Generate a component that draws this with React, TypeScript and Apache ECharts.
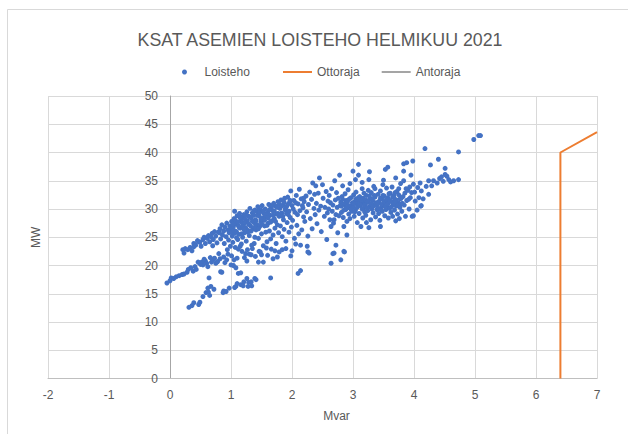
import React, { useEffect, useRef } from "react";
import * as echarts from "echarts";

type Pt = [number, number];

const titleText = "KSAT ASEMIEN LOISTEHO HELMIKUU 2021";
const xAxisName = "Mvar";
const yAxisName = "MW";
const seriesNames = ["Loisteho", "Ottoraja", "Antoraja"];

// Loisteho scatter [Mvar, MW]
const loistehoLeftChain: Pt[] = [
  [-0.05, 16.9], [0.0, 17.3], [0.02, 17.8], [0.06, 17.7], [0.1, 18.0], [0.15, 18.2], [0.2, 18.4], [0.23, 18.5],
  [0.28, 18.8], [0.3, 19.3], [0.34, 19.6], [0.38, 19.0], [0.43, 19.3], [0.46, 20.6], [0.48, 20.5], [0.52, 20.6],
  [0.54, 20.1], [0.58, 20.8], [0.62, 19.8], [0.64, 17.8], [0.68, 20.6], [0.7, 21.0], [0.75, 20.4], [0.77, 20.6],
  [0.78, 20.7], [0.82, 21.2], [0.83, 18.9], [0.85, 18.8], [0.8, 22.1], [0.88, 21.5], [0.93, 21.0], [1.0, 20.1],
  [1.01, 21.7], [1.04, 20.0], [1.05, 21.0], [1.08, 19.6], [1.12, 18.6], [1.16, 18.7], [1.18, 22.5], [1.22, 21.4],
  [1.26, 20.8], [1.3, 22.0], [1.45, 20.6], [1.53, 20.6], [1.4, 21.6], [1.35, 23.0], [1.48, 22.4], [1.6, 21.8],
  [1.69, 21.2], [1.79, 22.4], [1.84, 22.8], [1.98, 21.7], [2.26, 22.4], [2.25, 23.4], [2.28, 22.2],
  [0.41, 19.8], [0.5, 20.2], [0.56, 21.1], [0.6, 20.4], [0.66, 21.4], [0.73, 21.3], [0.9, 20.5], [0.95, 22.0],
  [1.1, 21.3], [1.15, 23.4], [1.24, 22.1], [1.38, 23.9], [1.5, 21.9], [1.58, 23.1], [1.66, 22.9], [1.76, 21.5],
  [1.9, 23.0], [2.0, 22.6], [2.06, 23.8],
];

const loistehoLowerChain: Pt[] = [
  [0.31, 12.6], [0.36, 12.9], [0.39, 13.4], [0.47, 13.1], [0.49, 13.5], [0.54, 14.5], [0.59, 15.2], [0.63, 15.3],
  [0.65, 14.7], [0.62, 16.0], [0.67, 16.3], [0.72, 15.8], [0.87, 15.2], [0.88, 15.5], [0.92, 15.4], [0.97, 16.0],
  [1.06, 16.1], [1.08, 16.3], [1.1, 16.8], [1.16, 16.6], [1.2, 16.4], [1.21, 17.1], [1.26, 17.7], [1.28, 16.3],
  [1.29, 17.0], [1.33, 17.1], [1.34, 16.4], [1.39, 17.7], [1.41, 17.5], [1.65, 17.8], [2.1, 18.6], [2.14, 19.1],
  [2.64, 20.4], [2.67, 22.1], [2.8, 21.0], [2.86, 22.4], [2.69, 22.2], [2.85, 22.5],
];

const loistehoBandLeft: Pt[] = [
  [0.21, 22.8], [0.23, 22.2], [0.25, 23.0], [0.29, 22.8], [0.33, 23.2], [0.36, 22.6], [0.39, 23.9], [0.39, 23.3],
  [0.42, 23.6], [0.45, 24.4], [0.47, 24.2], [0.49, 24.1], [0.51, 23.4], [0.54, 24.6], [0.56, 25.0], [0.58, 23.9],
  [0.61, 24.8], [0.63, 25.3], [0.65, 24.2], [0.67, 25.1], [0.69, 25.7], [0.71, 24.6], [0.73, 26.0], [0.75, 25.2],
  [0.77, 24.0], [0.79, 25.9], [0.7, 23.5],
  [0.81, 25.8], [0.82, 26.5], [0.83, 24.7], [0.85, 27.2], [0.86, 25.4], [0.88, 26.1], [0.89, 23.9], [0.9, 26.8],
  [0.92, 25.1], [0.93, 27.5], [0.95, 26.3], [0.96, 24.5], [0.97, 25.8], [0.98, 27.0], [0.99, 23.4], [0.94, 22.8],
  [1.0, 26.4], [1.01, 27.8], [1.02, 25.2], [1.03, 24.1], [1.04, 26.9], [1.05, 28.3], [1.06, 25.7], [1.07, 23.2],
  [1.08, 27.4], [1.09, 26.0], [1.1, 28.8], [1.11, 24.6], [1.12, 27.1], [1.13, 25.5], [1.14, 29.2], [1.15, 26.6],
  [1.16, 28.0], [1.17, 23.8], [1.18, 27.6], [1.19, 25.0], [1.19, 28.6], [1.12, 22.9], [1.06, 29.6],
];

const loistehoBandMid: Pt[] = [
  [1.2, 27.3], [1.21, 29.0], [1.22, 25.8], [1.23, 28.2], [1.24, 26.7], [1.25, 24.3], [1.26, 29.5], [1.27, 27.9],
  [1.28, 26.2], [1.29, 28.7], [1.3, 25.3], [1.31, 30.1], [1.32, 27.0], [1.33, 28.4], [1.34, 23.6], [1.35, 29.3],
  [1.36, 26.5], [1.37, 28.9], [1.38, 27.6], [1.39, 25.0], [1.39, 29.8], [1.27, 22.8], [1.33, 21.9],
  [1.4, 28.1], [1.41, 26.3], [1.42, 29.6], [1.43, 27.2], [1.44, 30.4], [1.45, 24.8], [1.46, 28.8], [1.47, 26.9],
  [1.48, 29.9], [1.49, 27.7], [1.5, 25.6], [1.51, 30.6], [1.52, 28.4], [1.53, 23.5], [1.54, 29.2], [1.55, 27.0],
  [1.56, 30.0], [1.57, 25.9], [1.58, 28.6], [1.59, 24.2], [1.46, 22.5],
  [1.6, 29.4], [1.61, 27.5], [1.62, 30.8], [1.63, 26.1], [1.64, 28.9], [1.65, 24.7], [1.66, 30.2], [1.67, 27.9],
  [1.68, 29.7], [1.69, 25.4], [1.7, 31.0], [1.71, 28.3], [1.72, 26.6], [1.73, 30.5], [1.74, 23.9], [1.75, 29.1],
  [1.76, 27.2], [1.77, 31.3], [1.78, 25.8], [1.79, 28.7], [1.72, 22.6],
  [1.8, 30.1], [1.81, 27.0], [1.82, 31.6], [1.83, 29.3], [1.84, 25.1], [1.85, 30.7], [1.86, 28.1], [1.87, 26.4],
  [1.88, 31.9], [1.89, 29.8], [1.9, 24.3], [1.91, 30.4], [1.92, 27.6], [1.93, 32.1], [1.94, 29.0], [1.95, 25.9],
  [1.96, 31.2], [1.97, 28.5], [1.98, 33.2], [1.99, 26.8],
  [2.0, 30.6], [2.01, 28.0], [2.03, 31.5], [2.04, 24.8], [2.05, 29.4], [2.07, 32.4], [2.08, 27.1], [2.1, 30.9],
  [2.11, 25.6], [2.12, 33.5], [2.13, 29.7], [2.15, 31.8], [2.16, 26.3], [2.18, 30.2], [2.19, 28.6], [2.14, 23.6],
  [2.2, 31.3], [2.21, 27.8], [2.23, 32.3], [2.24, 29.5], [2.26, 25.2], [2.27, 30.8], [2.29, 33.0], [2.3, 28.3],
  [2.32, 31.7], [2.33, 26.5], [2.34, 34.6], [2.36, 30.1], [2.37, 32.6], [2.39, 34.1], [2.38, 29.0],
  [2.4, 31.0], [2.41, 27.4], [2.43, 32.8], [2.44, 29.8], [2.45, 35.5], [2.47, 30.5], [2.48, 26.0], [2.5, 34.3],
  [2.51, 31.9], [2.53, 28.7], [2.54, 30.3], [2.56, 33.1], [2.57, 24.6], [2.58, 29.3], [2.59, 31.4],
];

const loistehoBandRight: Pt[] = [
  [2.6, 30.0], [2.61, 32.4], [2.62, 28.1], [2.63, 31.1], [2.64, 26.9], [2.65, 33.6], [2.66, 29.6], [2.67, 30.7],
  [2.68, 27.5], [2.69, 28.1], [2.7, 35.0], [2.71, 31.6], [2.72, 29.0], [2.73, 32.9], [2.74, 30.3], [2.75, 25.8],
  [2.76, 31.9], [2.77, 28.8], [2.78, 36.0], [2.79, 30.6], [2.72, 23.6],
  [2.8, 31.2], [2.81, 29.4], [2.82, 32.2], [2.83, 34.1], [2.84, 28.5], [2.85, 26.9], [2.86, 30.8], [2.87, 32.7],
  [2.88, 29.9], [2.89, 31.5], [2.9, 27.8], [2.91, 30.2], [2.92, 33.4], [2.93, 29.1], [2.94, 31.8], [2.95, 28.3],
  [2.96, 30.5], [2.97, 32.0], [2.98, 29.6], [2.99, 31.1], [2.9, 25.4], [2.95, 34.5],
  [3.0, 36.7], [3.0, 30.4], [3.01, 32.5], [3.02, 28.7], [3.03, 31.3], [3.04, 35.2], [3.04, 29.8], [3.05, 33.0],
  [3.06, 30.9], [3.07, 27.6], [3.08, 31.7], [3.09, 37.9], [3.09, 36.0], [3.1, 29.2], [3.11, 32.2], [3.12, 30.6],
  [3.13, 26.9], [3.14, 31.0], [3.15, 33.6], [3.16, 28.4], [3.17, 30.1], [3.18, 32.8], [3.19, 29.5], [3.15, 34.7],
  [3.1, 31.5], [3.18, 31.4],
  [3.2, 30.8], [3.21, 28.9], [3.22, 32.4], [3.23, 31.2], [3.24, 29.7], [3.25, 33.3], [3.26, 26.7], [3.26, 35.2],
  [3.27, 36.6], [3.27, 30.4], [3.28, 31.8], [3.29, 28.1], [3.3, 32.9], [3.31, 30.0], [3.32, 31.5], [3.33, 29.3],
  [3.34, 34.0], [3.35, 30.7], [3.36, 32.1], [3.37, 28.6], [3.38, 31.1], [3.39, 29.9], [3.3, 30.3], [3.36, 33.6],
  [3.22, 27.6],
  [3.4, 30.9], [3.41, 32.6], [3.42, 29.2], [3.43, 31.4], [3.44, 28.0], [3.45, 26.9], [3.45, 33.2], [3.46, 30.2],
  [3.47, 31.9], [3.48, 29.6], [3.49, 34.3], [3.5, 30.6], [3.51, 32.3], [3.52, 28.8], [3.53, 37.0], [3.53, 31.2],
  [3.54, 29.9], [3.55, 33.7], [3.56, 30.4], [3.57, 37.4], [3.57, 32.0], [3.58, 28.4], [3.59, 31.6], [3.5, 35.1],
  [3.48, 31.8],
  [3.6, 30.1], [3.61, 32.8], [3.62, 29.4], [3.63, 31.3], [3.64, 33.9], [3.65, 28.7], [3.66, 30.8], [3.67, 32.4],
  [3.68, 29.8], [3.69, 31.7], [3.7, 27.9], [3.71, 30.5], [3.72, 33.1], [3.73, 29.1], [3.74, 31.1], [3.75, 32.5],
  [3.76, 28.3], [3.77, 30.3], [3.78, 34.5], [3.79, 31.9], [3.7, 35.5],
  [3.8, 29.6], [3.82, 32.2], [3.83, 38.0], [3.83, 36.7], [3.83, 35.0], [3.84, 30.7], [3.86, 28.7], [3.88, 38.2],
  [3.88, 31.5], [3.9, 33.3], [3.92, 30.0], [3.94, 32.0], [3.96, 32.9], [3.97, 28.7], [3.98, 38.5], [3.99, 34.4],
  [3.99, 28.8], [3.95, 36.0],
];

const loistehoDenseCore: Pt[] = [
  [1.01, 25.9], [1.03, 27.3], [1.05, 26.2], [1.07, 28.0], [1.09, 24.9], [1.11, 27.7], [1.13, 26.8], [1.15, 28.5],
  [1.17, 25.6], [1.19, 26.9], [1.21, 26.4], [1.23, 27.6], [1.25, 28.9], [1.27, 25.9], [1.29, 27.3], [1.31, 28.6],
  [1.33, 26.1], [1.35, 27.8], [1.37, 29.6], [1.39, 26.8], [1.41, 27.9], [1.43, 28.9], [1.45, 26.5], [1.47, 29.4],
  [1.49, 28.2], [1.51, 27.3], [1.53, 29.7], [1.55, 28.0], [1.57, 29.0], [1.59, 27.1], [1.61, 28.4], [1.63, 29.9],
  [1.65, 27.7], [1.67, 30.6], [1.69, 28.9], [1.71, 29.6], [1.73, 27.8], [1.75, 30.3], [1.77, 29.2], [1.79, 30.9],
  [1.81, 29.0], [1.83, 30.5], [1.85, 28.7], [1.87, 31.2], [1.89, 30.0], [1.91, 29.2], [1.93, 30.8], [1.95, 29.6],
  [1.97, 31.5], [2.02, 30.0], [2.06, 31.1], [2.09, 29.0], [2.17, 30.6], [2.19, 31.9],
  [2.81, 30.5], [2.83, 31.7], [2.85, 29.8], [2.87, 31.0], [2.89, 30.2], [2.91, 31.3], [2.93, 30.6], [2.97, 29.9],
  [3.01, 31.0], [3.03, 29.5], [3.05, 31.8], [3.07, 30.3], [3.09, 32.0], [3.11, 30.8], [3.13, 31.6], [3.15, 30.0],
  [3.17, 31.9], [3.19, 30.7], [3.21, 31.6], [3.23, 30.2], [3.25, 31.4], [3.27, 32.3], [3.29, 30.9], [3.31, 31.7],
  [3.33, 30.5], [3.35, 32.4], [3.37, 31.0], [3.39, 30.6], [3.41, 31.1], [3.43, 30.0], [3.45, 31.9], [3.47, 30.8],
  [3.49, 32.4], [3.51, 31.3], [3.53, 30.4], [3.55, 31.6], [3.57, 30.9], [3.59, 32.7], [3.61, 31.4], [3.63, 30.4],
  [3.65, 32.1], [3.67, 31.0], [3.69, 32.9], [3.71, 31.6], [3.73, 30.7], [3.75, 33.6], [3.77, 31.8], [3.79, 30.9],
  [3.81, 31.0], [3.85, 32.8], [3.87, 33.6], [3.91, 31.7], [3.93, 33.9], [4.01, 33.0], [4.06, 33.8], [4.1, 34.6],
];

const loistehoFarRight: Pt[] = [
  [4.02, 31.4], [4.05, 29.8], [4.08, 32.0], [4.11, 30.5], [4.12, 33.2], [4.12, 30.6], [4.15, 31.8], [4.18, 40.7],
  [4.2, 34.0], [4.24, 32.6], [4.24, 35.0], [4.27, 37.8], [4.29, 34.1], [4.32, 35.0],
  [4.38, 34.6], [4.4, 38.8], [4.42, 35.4], [4.45, 35.7], [4.48, 34.9], [4.51, 37.2], [4.51, 36.1], [4.54, 35.8],
  [4.57, 35.2], [4.6, 34.8], [4.65, 35.0], [4.73, 35.2], [4.73, 40.1], [4.98, 42.3], [5.06, 43.0], [5.09, 43.0],
];

const ottoraja: Pt[] = [[6.4, 0], [6.4, 40], [7, 43.6]];
const antoraja: Pt[] = [];

const xMin = -2, xMax = 7, xStep = 1;
const yMin = 0, yMax = 50, yStep = 5;

const loisteho: Pt[] = [
  ...loistehoLeftChain,
  ...loistehoLowerChain,
  ...loistehoBandLeft,
  ...loistehoBandMid,
  ...loistehoBandRight,
  ...loistehoDenseCore,
  ...loistehoFarRight,
];

const FONT = "Liberation Sans";
const TXT = "#595959";
const GRID = "#d9d9d9";

const GRID_LEFT = 48;
const GRID_RIGHT = 31;
const CHART_W = 628;

export default function App() {
  const ref = useRef<HTMLDivElement>(null);
  useEffect(() => {
    if (!ref.current) return;
    const chart = echarts.init(ref.current, undefined, { renderer: "svg" });
    // y axis sits where Mvar = 0 (as in the spreadsheet); shift it there with offset
    const plotW = CHART_W - GRID_LEFT - GRID_RIGHT;
    const zeroShift = ((0 - xMin) / (xMax - xMin)) * plotW;
    chart.setOption({
      animation: false,
      backgroundColor: "#ffffff",
      textStyle: { fontFamily: FONT },
      title: {
        text: titleText,
        left: 320,
        top: 31,
        padding: 0,
        textAlign: "center",
        textStyle: { fontFamily: FONT, fontSize: 17.8, fontWeight: "normal", color: TXT },
      },
      legend: [
        {
          data: [{ name: seriesNames[0], icon: "circle" }],
          left: 182,
          top: 66,
          padding: 0,
          itemWidth: 30,
          itemHeight: 5,
          textStyle: { fontFamily: FONT, fontSize: 12, color: TXT },
        },
        {
          data: [
            { name: seriesNames[1], icon: "rect" },
            { name: seriesNames[2], icon: "rect" },
          ],
          left: 283,
          top: 66,
          padding: 0,
          itemWidth: 29,
          itemHeight: 2,
          itemGap: 22,
          textStyle: { fontFamily: FONT, fontSize: 12, color: TXT },
        },
      ],
      grid: {
        left: GRID_LEFT,
        right: GRID_RIGHT,
        top: 96,
        bottom: 55.5,
        containLabel: false,
        outerBoundsMode: "none",
      },
      xAxis: {
        type: "value",
        min: xMin,
        max: xMax,
        interval: xStep,
        name: xAxisName,
        nameLocation: "middle",
        nameGap: 31,
        nameTextStyle: { fontFamily: FONT, fontSize: 12, color: TXT, padding: [0, 0, 0, 28] },
        axisLine: { show: true, onZero: false, lineStyle: { color: "#bfbfbf", width: 1 } },
        axisTick: { show: false },
        axisLabel: { color: TXT, fontSize: 12, fontFamily: FONT, margin: 10 },
        splitLine: { show: true, lineStyle: { color: GRID, width: 1 } },
      },
      yAxis: {
        type: "value",
        min: yMin,
        max: yMax,
        interval: yStep,
        offset: -zeroShift,
        name: yAxisName,
        nameLocation: "middle",
        nameGap: 128,
        nameRotate: 90,
        nameTextStyle: { fontFamily: FONT, fontSize: 12, color: TXT },
        axisLine: { show: true, onZero: false, lineStyle: { color: "#a6a6a6", width: 1 } },
        axisTick: { show: false },
        axisLabel: { color: TXT, fontSize: 12, fontFamily: FONT, margin: 12 },
        splitLine: { show: true, lineStyle: { color: GRID, width: 1 } },
      },
      graphic: [
        {
          type: "rect",
          shape: { x: 7.5, y: 9.5, width: 660, height: 460 },
          style: { fill: "none", stroke: GRID, lineWidth: 1 },
          silent: true,
        },
      ],
      series: [
        {
          name: seriesNames[0],
          type: "scatter",
          data: loisteho,
          symbol: "circle",
          symbolSize: 5,
          itemStyle: { color: "#4472C4", opacity: 1 },
          z: 3,
        },
        {
          name: seriesNames[1],
          type: "line",
          data: ottoraja,
          showSymbol: false,
          symbol: "none",
          lineStyle: { color: "#ED7D31", width: 2 },
          itemStyle: { color: "#ED7D31" },
          z: 2,
        },
        {
          name: seriesNames[2],
          type: "line",
          data: antoraja,
          showSymbol: false,
          symbol: "none",
          lineStyle: { color: "#A5A5A5", width: 1.5 },
          itemStyle: { color: "#A5A5A5" },
          z: 2,
        },
      ],
    });
    return () => chart.dispose();
  }, []);
  return (
    <div
      ref={ref}
      style={{ position: "fixed", left: 0, top: 0, width: CHART_W, height: 434 }}
    />
  );
}
